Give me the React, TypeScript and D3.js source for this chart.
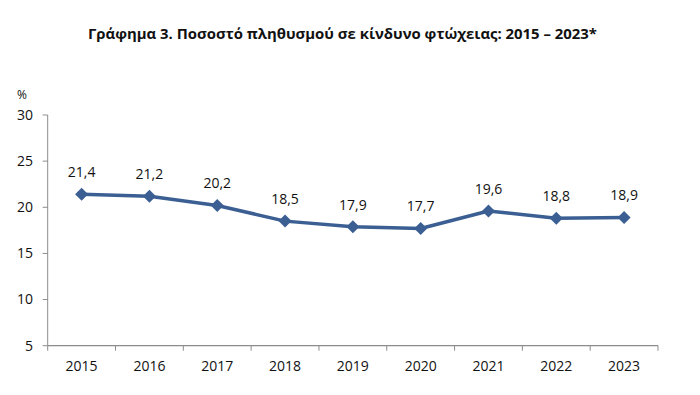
import React from "react";
import * as d3 from "d3";

const years = ["2015", "2016", "2017", "2018", "2019", "2020", "2021", "2022", "2023"];
const values = [21.4, 21.2, 20.2, 18.5, 17.9, 17.7, 19.6, 18.8, 18.9];
const yTicks = [5, 10, 15, 20, 25, 30];
const title = "Γράφημα 3. Ποσοστό πληθυσμού σε κίνδυνο φτώχειας: 2015 – 2023*";

export default function App() {
  const W = 700, H = 395;
  const left = 47.7, right = 658, top = 115, bottom = 345.7;
  const x = d3.scaleBand<string>().domain(years).range([left, right]).padding(0);
  const y = d3.scaleLinear().domain([5, 30]).range([bottom, top]);
  const cx = (d: string) => (x(d) as number) + x.bandwidth() / 2;
  const line = d3.line<number>().x((_, i) => cx(years[i])).y((v) => y(v));
  const font = "'Open Sans', 'DejaVu Sans', sans-serif";
  const axisColor = "#8c8c8c";
  const color = "#3b5f93";
  const fmt = (v: number) => v.toFixed(1).replace(".", ",");
  const ticksX = [...years.map((d) => x(d) as number), right];
  return (
    <svg width={W} height={H} style={{ position: "absolute", left: 0, top: 0, background: "#fff" }} fontFamily={font}>
      <text x={342.5} y={39} textAnchor="middle" fontSize={14.9} fontWeight="bold" fill="#111">{title}</text>
      <text x={22} y={99} textAnchor="middle" fontSize={12} fill="#111">%</text>
      <line x1={left} x2={left} y1={top} y2={bottom} stroke={axisColor} strokeWidth={1} />
      {yTicks.map((t) => (
        <g key={t}>
          <line x1={left - 5} x2={left} y1={y(t)} y2={y(t)} stroke={axisColor} />
          <text x={33} y={y(t)} dy="0.35em" textAnchor="end" fontSize={14} fill="#111">{t}</text>
        </g>
      ))}
      <line x1={left} x2={right} y1={bottom} y2={bottom} stroke={axisColor} strokeWidth={1.2} />
      {ticksX.map((tx, i) => (
        <line key={i} x1={tx} x2={tx} y1={bottom} y2={bottom + 5} stroke={axisColor} />
      ))}
      {years.map((d) => (
        <text key={d} x={cx(d)} y={366} dy="0.35em" textAnchor="middle" fontSize={14} fill="#111">{d}</text>
      ))}
      <path d={line(values) || ""} fill="none" stroke={color} strokeWidth={3.5} strokeLinejoin="round" />
      {values.map((v, i) => {
        const px = cx(years[i]), py = y(v), s = 6.5;
        return (
          <g key={i}>
            <path d={`M${px},${py - s}L${px + s},${py}L${px},${py + s}L${px - s},${py}Z`} fill={color} />
            <text x={px} y={py - 22} dy="0.35em" textAnchor="middle" fontSize={14} fill="#111">{fmt(v)}</text>
          </g>
        );
      })}
    </svg>
  );
}
